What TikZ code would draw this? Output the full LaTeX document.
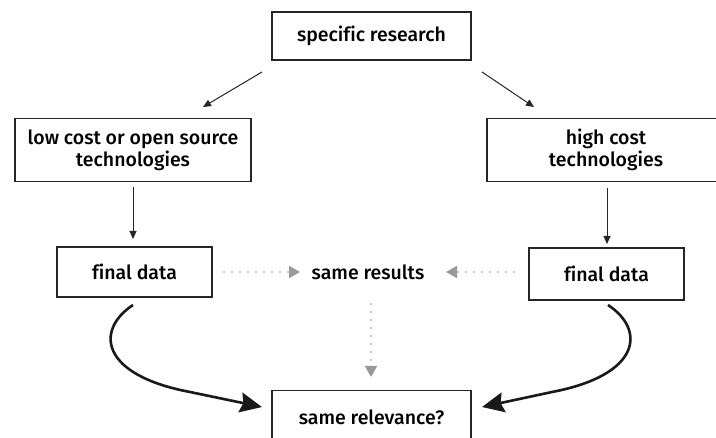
\documentclass[tikz,border=0pt]{standalone}
\usepackage{fontspec}
\setmainfont{Fira Sans Medium}[Ligatures=NoCommon]
\usetikzlibrary{arrows.meta}
\begin{document}
\begin{tikzpicture}[x=1pt,y=-1pt,
  box/.style={draw=black!85, line width=1.4pt, fill=white, inner sep=0pt,
    align=center, font=\fontsize{19.5}{22}\selectfont},
  plain/.style={align=center, font=\fontsize{19.5}{22}\selectfont},
  thinarrow/.style={draw=black!85, line width=1pt, -{Triangle[length=8pt,width=7pt]}},
  grayarrow/.style={draw=black!40, line width=1.8pt, dash pattern=on 0pt off 8pt,
    line cap=round, -{Triangle[length=11pt,width=12pt,line cap=butt]}},
  heavyarrow/.style={draw=black!90, line width=2.6pt,
    -{Stealth[length=22pt,width=20pt,inset=3pt]}}]
\useasboundingbox (0,0) rectangle (716,438);

% boxes
\node[box, minimum width=199pt, minimum height=48pt] (spec) at (371.5,36) {specific research};
\node[box, minimum width=236pt, minimum height=63pt] (low) at (133,150) {low cost or open source\\technologies};
\node[box, minimum width=238pt, minimum height=63pt] (high) at (606,150) {high cost\\technologies};
\node[box, minimum width=155pt, minimum height=50pt] (fdl) at (134.5,272) {final data};
\node[box, minimum width=155pt, minimum height=52pt] (fdr) at (606.5,274) {final data};
\node[plain] (same) at (368,272) {same results};
\node[box, minimum width=199pt, minimum height=60pt, anchor=north] (rel) at (371.5,390) {};
\node[plain] (reltext) at (371.5,417) {same relevance?};

% connector end points
\coordinate (s1) at (262,72);
\coordinate (s2) at (482,72);
\coordinate (l1) at (133,187);
\coordinate (h1) at (607,188);
\coordinate (dl1) at (224,272);
\coordinate (dr1) at (514,272);
\coordinate (sd1) at (371,304);
\coordinate (cl) at (133,305);
\coordinate (cr) at (608,305);

% solid arrows
\draw[thinarrow] (s1) -- (203,107);
\draw[thinarrow] (s2) -- (534,107);
\draw[thinarrow] (l1) -- (133,239);
\draw[thinarrow] (h1) -- (607,244);

% dotted grey arrows
\draw[grayarrow] (dl1) -- (300,272);
\draw[grayarrow] (dr1) -- (446,272);
\draw[grayarrow] (sd1) -- (371,377);

% heavy curved arrows
\draw[heavyarrow] (cl) .. controls (95,330) and (100,375) .. (190,392) -- (262,407);
\draw[heavyarrow] (cr) .. controls (646,330) and (641,375) .. (552,392) -- (482,407);
\end{tikzpicture}
\end{document}
